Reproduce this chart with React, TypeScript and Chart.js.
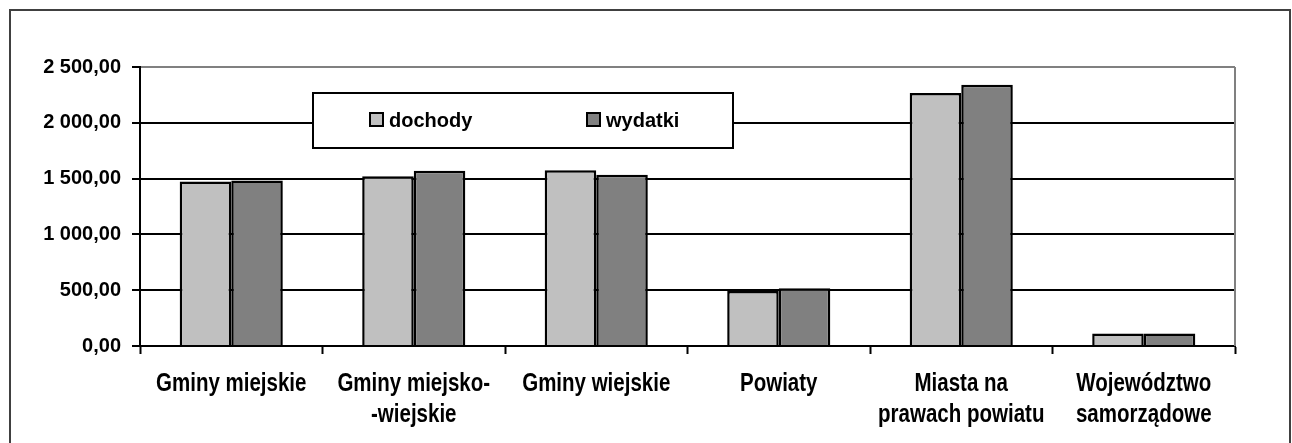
import React, { useEffect, useRef } from "react";
import { Chart, registerables } from "chart.js";

Chart.register(...registerables);

const categories: string[][] = [
  ["Gminy miejskie"],
  ["Gminy miejsko-", "-wiejskie"],
  ["Gminy wiejskie"],
  ["Powiaty"],
  ["Miasta na", "prawach powiatu"],
  ["Województwo", "samorządowe"],
];
const seriesNames = ["dochody", "wydatki"];
const dochody = [1475, 1520, 1575, 493, 2268, 111];
const wydatki = [1482, 1570, 1535, 517, 2342, 112];
const yTicks = [0, 500, 1000, 1500, 2000, 2500];
const seriesColors = ["#c0c0c0", "#808080"];

function formatPl(v: number): string {
  const [intPart, dec] = v.toFixed(2).split(".");
  const grouped = intPart.replace(/\B(?=(\d{3})+(?!\d))/g, " ");
  return grouped + "," + dec;
}

const frame = {
  id: "frame",
  beforeDraw(chart: any) {
    const ctx = chart.ctx;
    ctx.save();
    ctx.fillStyle = "#ffffff";
    ctx.fillRect(0, 0, chart.width, chart.height);
    ctx.strokeStyle = "#404040";
    ctx.lineWidth = 2;
    ctx.strokeRect(10, 10, 1280, 500);
    ctx.restore();
  },
  afterDraw(chart: any) {
    const ctx = chart.ctx;
    const a = chart.chartArea;
    const xs = chart.scales.x;
    ctx.save();
    // right plot border
    ctx.strokeStyle = "#808080";
    ctx.lineWidth = 2;
    ctx.beginPath();
    ctx.moveTo(a.right, a.top);
    ctx.lineTo(a.right, a.bottom);
    ctx.stroke();

    // category labels in a narrow bold face
    ctx.fillStyle = "#000";
    ctx.font = "bold 25px 'Liberation Sans', Arial, sans-serif";
    ctx.textAlign = "center";
    ctx.textBaseline = "alphabetic";
    categories.forEach((lines, i) => {
      const x = xs.getPixelForValue(i);
      lines.forEach((line, j) => {
        ctx.save();
        ctx.translate(x, a.bottom + 45 + j * 31);
        ctx.scale(0.82, 1);
        ctx.fillText(line, 0, 0);
        ctx.restore();
      });
    });

    // legend box
    ctx.fillStyle = "#ffffff";
    ctx.fillRect(312, 92, 422, 57);
    ctx.strokeStyle = "#000000";
    ctx.lineWidth = 2;
    ctx.strokeRect(313, 93, 420, 55);
    const items = [
      { x: 369, label: seriesNames[0], color: seriesColors[0] },
      { x: 586, label: seriesNames[1], color: seriesColors[1] },
    ];
    ctx.font = "bold 20px 'Liberation Sans', Arial, sans-serif";
    ctx.textAlign = "left";
    for (const it of items) {
      ctx.fillStyle = it.color;
      ctx.fillRect(it.x + 1, 113, 13, 13);
      ctx.strokeStyle = "#000";
      ctx.lineWidth = 2;
      ctx.strokeRect(it.x + 1, 113, 13, 13);
      ctx.fillStyle = "#000";
      ctx.fillText(it.label, it.x + 20, 127);
    }
    ctx.restore();
  },
};

export default function App() {
  const ref = useRef<HTMLCanvasElement | null>(null);
  useEffect(() => {
    document.body.style.margin = "0";
    if (!ref.current) return;
    const chart = new Chart(ref.current, {
      type: "bar",
      data: {
        labels: categories.map((c) => c.join(" ")),
        datasets: [
          {
            label: seriesNames[0],
            data: dochody,
            backgroundColor: seriesColors[0],
            borderColor: "#000",
            borderWidth: 2.5,
          },
          {
            label: seriesNames[1],
            data: wydatki,
            backgroundColor: seriesColors[1],
            borderColor: "#000",
            borderWidth: 2.5,
          },
        ],
      },
      options: {
        responsive: false,
        animation: false,
        layout: { padding: { top: 67, left: 0, right: 57, bottom: 0 } },
        plugins: { legend: { display: false }, tooltip: { enabled: false } },
        datasets: { bar: { categoryPercentage: 0.565, barPercentage: 1 } },
        scales: {
          x: {
            afterFit(scale: any) {
              scale.height = 97;
            },
            grid: {
              offset: true,
              drawOnChartArea: false,
              drawTicks: true,
              tickLength: 8,
              tickColor: "#000",
              tickWidth: 2,
            },
            border: { display: true, color: "#000", width: 2 },
            ticks: { display: false, autoSkip: false },
          },
          y: {
            min: 0,
            max: 2500,
            afterFit(scale: any) {
              scale.width = 140;
            },
            afterBuildTicks(scale: any) {
              scale.ticks = yTicks.map((v) => ({ value: v }));
            },
            grid: {
              color: (c: any) => (c.tick && c.tick.value === 2500 ? "#808080" : "#000"),
              lineWidth: 2,
              tickColor: "#000",
              tickLength: 8,
              tickWidth: 2,
            },
            border: { display: true, color: "#000", width: 2 },
            ticks: {
              color: "#000",
              padding: 11,
              font: { family: "'Liberation Sans', Arial, sans-serif", size: 20, weight: "bold" },
              callback: (v: any) => formatPl(Number(v)),
            },
          },
        },
      },
      plugins: [frame],
    });
    return () => chart.destroy();
  }, []);
  return (
    <div style={{ width: 1292, height: 443 }}>
      <canvas ref={ref} width={1292} height={443} style={{ display: "block" }} />
    </div>
  );
}
